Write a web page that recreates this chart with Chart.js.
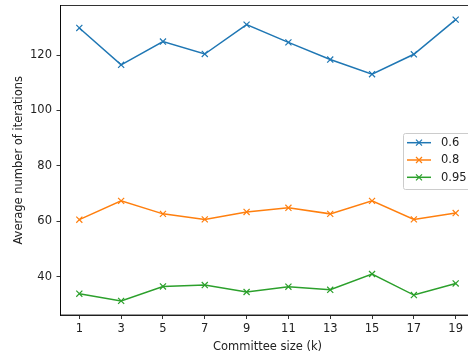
<!DOCTYPE html>
<html>
<head>
<meta charset="utf-8">
<script src="https://cdn.jsdelivr.net/npm/chart.js@4/dist/chart.umd.min.js"></script>
<style>
  html, body { margin: 0; padding: 0; overflow: hidden; background: #fff; }
  #wrap { width: 468px; height: 358px; overflow: hidden; }
  canvas { display: block; }
</style>
</head>
<body>
<div id="wrap"><canvas id="c" width="480" height="358"></canvas></div>
<script>
// Committee sizes and mean iteration counts per threshold
const committeeSizes = [1, 3, 5, 7, 9, 11, 13, 15, 17, 19];
const seriesLabels = ['0.6', '0.8', '0.95'];
const iters06 = [129.8, 116.5, 124.9, 120.4, 131.0, 124.6, 118.4, 113.1, 120.3, 132.8];
const iters08 = [60.6, 67.4, 62.7, 60.7, 63.4, 64.9, 62.7, 67.4, 60.7, 63.0];
const iters095 = [33.9, 31.3, 36.5, 37.0, 34.5, 36.4, 35.3, 41.0, 33.4, 37.6];
const yTicks = [40, 60, 80, 100, 120];
const xTicks = [1, 3, 5, 7, 9, 11, 13, 15, 17, 19];

const colors = ['#1f77b4', '#ff7f0e', '#2ca02c'];
const FONT = "'DejaVu Sans', sans-serif";
const FS = 11.5;

function makeSet(label, values, color) {
  return {
    label: label,
    data: committeeSizes.map((k, i) => ({ x: k, y: values[i] })),
    borderColor: color,
    backgroundColor: color,
    borderWidth: 1.5,
    pointStyle: 'crossRot',
    pointRadius: 4.3,
    pointHoverRadius: 4.3,
    pointBorderWidth: 1.2,
    tension: 0,
    fill: false
  };
}

// Frame on top/right and an in-plot legend box
const framePlugin = {
  id: 'frame',
  afterDraw(chart) {
    const { ctx, chartArea: a } = chart;
    ctx.save();
    ctx.strokeStyle = '#000';
    ctx.lineWidth = 0.8;
    ctx.strokeRect(a.left, a.top, a.right - a.left, a.bottom - a.top);

    // legend
    const bx = 403, by = 133, bw = 68, bh = 56;
    ctx.fillStyle = 'rgba(255,255,255,0.8)';
    ctx.strokeStyle = '#cccccc';
    ctx.lineWidth = 1;
    ctx.beginPath();
    ctx.roundRect(bx + 0.5, by + 0.5, bw, bh, 2);
    ctx.fill();
    ctx.stroke();
    const rows = [142.7, 160, 177.3];
    ctx.font = FS + 'px ' + FONT;
    ctx.textBaseline = 'middle';
    chart.data.datasets.forEach((ds, i) => {
      const y = rows[i];
      ctx.strokeStyle = ds.borderColor;
      ctx.lineWidth = 1.5;
      ctx.beginPath();
      ctx.moveTo(407, y);
      ctx.lineTo(431, y);
      ctx.stroke();
      const r = 3;
      ctx.lineWidth = 1.2;
      ctx.beginPath();
      ctx.moveTo(419 - r, y - r); ctx.lineTo(419 + r, y + r);
      ctx.moveTo(419 - r, y + r); ctx.lineTo(419 + r, y - r);
      ctx.stroke();
      ctx.fillStyle = '#222';
      ctx.fillText(ds.label, 441, y + 0.5);
    });
    ctx.restore();
  }
};

new Chart(document.getElementById('c'), {
  type: 'line',
  data: {
    datasets: [
      makeSet(seriesLabels[0], iters06, colors[0]),
      makeSet(seriesLabels[1], iters08, colors[1]),
      makeSet(seriesLabels[2], iters095, colors[2])
    ]
  },
  options: {
    responsive: false,
    animation: false,
    layout: { padding: { left: 0, right: 4.5, top: 5.5, bottom: 0 } },
    plugins: { legend: { display: false }, tooltip: { enabled: false } },
    scales: {
      x: {
        type: 'linear',
        min: 0.1,
        max: 19.9,
        afterBuildTicks(s) { s.ticks = xTicks.map(v => ({ value: v })); },
        afterFit(s) { s.height = 43; s.paddingLeft = 0; s.paddingRight = 0; },
        grid: { drawOnChartArea: false, drawTicks: true, tickLength: 4, color: '#000', lineWidth: 0.8 },
        border: { display: true, color: '#000', width: 0.8 },
        ticks: { color: '#222', font: { family: FONT, size: FS }, padding: 3.5, maxRotation: 0, autoSkip: false },
        title: { display: true, text: 'Committee size (k)', color: '#222', font: { family: FONT, size: FS }, padding: { top: 0, bottom: 4 } }
      },
      y: {
        type: 'linear',
        min: 26.2,
        max: 137.9,
        afterBuildTicks(s) { s.ticks = yTicks.map(v => ({ value: v })); },
        afterFit(s) { s.width = 60.5; s.paddingTop = 0; s.paddingBottom = 0; },
        grid: { drawOnChartArea: false, drawTicks: true, tickLength: 4, color: '#000', lineWidth: 0.8 },
        border: { display: true, color: '#000', width: 0.8 },
        ticks: { color: '#222', font: { family: FONT, size: FS }, padding: 4.5 },
        title: { display: true, text: 'Average number of iterations', color: '#222', font: { family: FONT, size: FS }, padding: { top: 12, bottom: 0 } }
      }
    }
  },
  plugins: [framePlugin]
});
</script>
</body>
</html>
